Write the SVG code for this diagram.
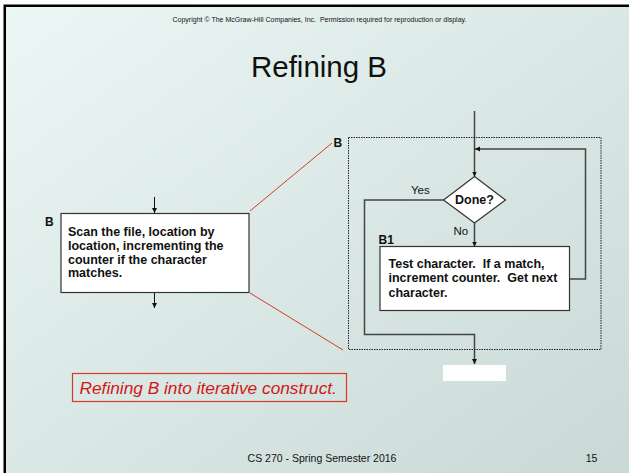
<svg xmlns="http://www.w3.org/2000/svg" width="629" height="473" viewBox="0 0 629 473">
<defs>
<linearGradient id="bg" x1="0" y1="0" x2="1" y2="1">
<stop offset="0" stop-color="#eaf7f4"/>
<stop offset="1" stop-color="#cbd9d6"/>
</linearGradient>
<marker id="ah" viewBox="0 0 10 10" refX="10" refY="5" markerWidth="5" markerHeight="6" markerUnits="userSpaceOnUse" orient="auto">
<path d="M0,0 L10,5 L0,10 z" fill="#111"/>
</marker>
</defs>
<style>
text{font-family:"Liberation Sans",Arial,sans-serif;fill:#111}
.b{font-weight:bold;font-size:12.5px;white-space:pre}
.lbl{font-weight:bold;font-size:12px}
.n{font-size:11.5px}
.box{fill:#fff;stroke:#333;stroke-width:1.2}
.thin{fill:none;stroke:#111;stroke-width:1}
.flow{fill:none;stroke:#444;stroke-width:1.5}
.red{fill:none;stroke:#d53a26;stroke-width:1}
</style>
<rect x="0" y="0" width="629" height="473" fill="#fff"/>
<rect x="3.5" y="4.5" width="626" height="469" fill="#000"/>
<rect x="6" y="7" width="623" height="466" fill="url(#bg)"/>
<text x="319.5" y="22" font-size="7" text-anchor="middle" fill="#222" style="white-space:pre">Copyright © The McGraw-Hill Companies, Inc.  Permission required for reproduction or display.</text>
<text x="319" y="77" font-size="29.5" text-anchor="middle">Refining B</text>
<g id="connectors">
<line class="thin" x1="154.5" y1="197" x2="154.5" y2="213" marker-end="url(#ah)"/>
<line class="thin" x1="154.5" y1="292" x2="154.5" y2="308" marker-end="url(#ah)"/>
<line class="red" x1="250" y1="211" x2="332" y2="143"/>
<line class="red" x1="250" y1="293" x2="343" y2="350"/>
<line class="flow" x1="474.5" y1="111" x2="474.5" y2="176.5" marker-end="url(#ah)"/>
<polyline class="flow" points="569.5,279 585.5,279 585.5,149 475,149" marker-end="url(#ah)"/>
<line class="flow" x1="474.5" y1="223" x2="474.5" y2="246.5" marker-end="url(#ah)"/>
<polyline class="flow" points="443.5,200 364.5,200 364.5,334.5 474.5,334.5 474.5,364" marker-end="url(#ah)"/>
<text x="411" y="194" class="n">Yes</text>
<text x="453.5" y="234.5" class="n">No</text>
</g>
<g id="nodeB">
<rect class="box" x="61" y="213.5" width="188" height="79"/>
<text x="45" y="226" class="lbl">B</text>
<text class="b" x="68" y="236">Scan the file, location by</text>
<text class="b" x="68" y="249.8">location, incrementing the</text>
<text class="b" x="68" y="263.6">counter if the character</text>
<text class="b" x="68" y="277.4">matches.</text>
</g>
<g id="refinedB">
<rect x="348.5" y="137.5" width="252.5" height="212" fill="none" stroke="#222" stroke-width="1" stroke-dasharray="1.5,1"/>
<text x="333.5" y="147" class="lbl">B</text>
</g>
<g id="done">
<polygon points="474.5,176.5 505.5,200 474.5,223 443.5,200" fill="#fff" stroke="#333" stroke-width="1.2"/>
<text x="474.5" y="203.5" class="b" text-anchor="middle">Done?</text>
</g>
<g id="nodeB1">
<rect class="box" x="380" y="246.5" width="189.5" height="64"/>
<text x="378.5" y="243.5" class="lbl">B1</text>
<text class="b" x="388.5" y="268">Test character.  If a match,</text>
<text class="b" x="388.5" y="282.2">increment counter.  Get next</text>
<text class="b" x="388.5" y="296.5">character.</text>
</g>
<g id="exit">
<rect x="443" y="365" width="63" height="16" fill="#fff"/>
</g>
<g id="caption">
<rect x="72.5" y="373.5" width="274" height="28" fill="none" stroke="#d53a26" stroke-width="1.2"/>
<text x="79.5" y="393.5" font-size="17.3" font-style="italic" style="fill:#d01818">Refining B into iterative construct.</text>
</g>
<text x="322" y="461.5" font-size="10.5" text-anchor="middle" fill="#222">CS 270 - Spring Semester 2016</text>
<text x="591.5" y="462" font-size="10.5" text-anchor="middle" fill="#222">15</text>
</svg>
